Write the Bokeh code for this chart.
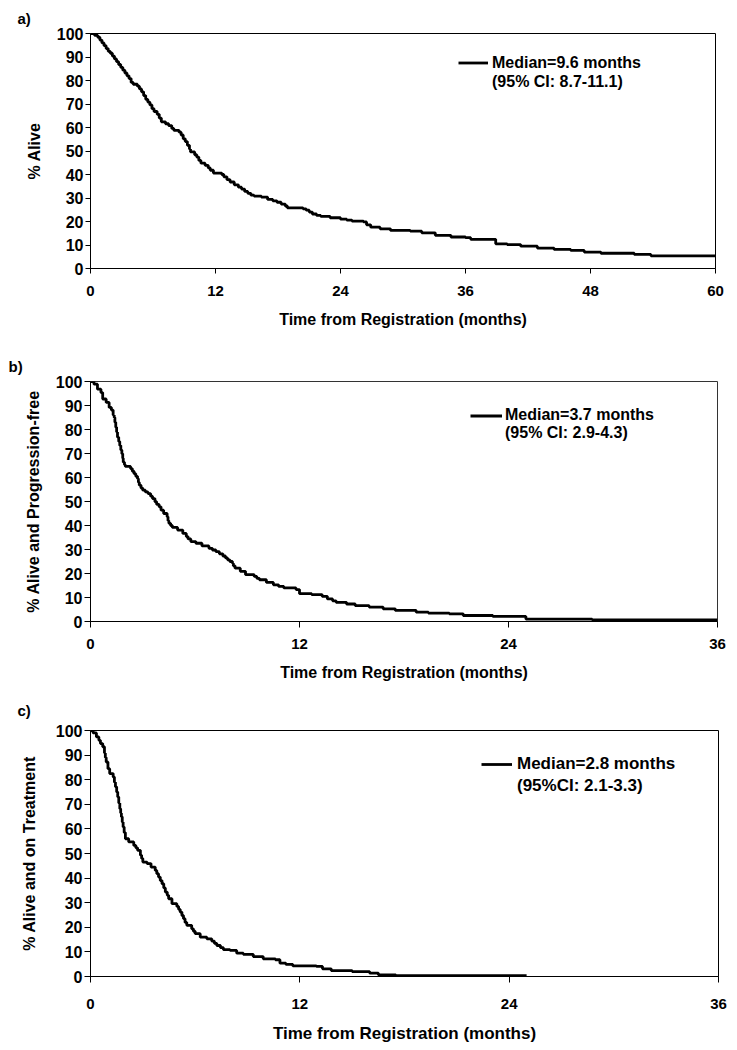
from bokeh.plotting import figure
from bokeh.models import (Range1d, FixedTicker, Legend, LegendItem, Title,
                          ColumnDataSource)
from bokeh.layouts import column
from bokeh.embed import file_html
from bokeh.resources import INLINE

# ---------------- data ----------------
panel_tags = ["a)", "b)", "c)"]
y_titles = ["% Alive", "% Alive and Progression-free", "% Alive and on Treatment"]
x_title = "Time from Registration (months)"
median_labels = ["Median=9.6 months", "Median=3.7 months", "Median=2.8 months"]
ci_labels = ["(95% CI: 8.7-11.1)", "(95% CI: 2.9-4.3)", "(95%CI: 2.1-3.3)"]
x_max = [60, 36, 36]
x_ticks_a = [0, 12, 24, 36, 48, 60]
x_ticks_bc = [0, 12, 24, 36]
y_ticks = [0, 10, 20, 30, 40, 50, 60, 70, 80, 90, 100]

# a) overall survival
os_time = [0, 0.4, 0.7, 0.9, 1.1, 1.3, 1.5, 1.7, 1.9, 2.1, 2.3, 2.5, 2.7, 2.9, 3.1,
           3.3, 3.5, 3.7, 3.9, 4.1, 4.5, 4.7, 4.9, 5.1, 5.3, 5.5, 5.7, 5.9, 6.1,
           6.4, 6.6, 6.8, 7.2, 7.5, 7.8, 8.0, 8.5, 8.7, 8.9, 9.1, 9.3, 9.5, 9.6,
           10.0, 10.2, 10.4, 10.6, 11.0, 11.3, 11.5, 11.8, 12.6, 12.8, 13.1, 13.4,
           13.8, 14.2, 14.5, 14.8, 15.1, 15.4, 15.7, 16.4, 17.0, 17.5, 17.9, 18.3,
           18.7, 18.9, 20.4, 20.7, 21.0, 21.3, 21.7, 22.1, 23.0, 24.0, 24.6, 25.1,
           26.2, 26.5, 26.9, 27.8, 28.8, 30.7, 31.8, 33.1, 34.6, 36.0, 36.5, 38.9,
           40.0, 41.3, 42.9, 44.5, 46.1, 47.4, 49.0, 52.2, 53.8, 60.0]
os_pct = [100, 99.2, 98.4, 97.2, 96, 94.8, 93.6, 92.4, 91.6, 90.4, 89.2, 88, 86.8,
          85.6, 84.4, 83.2, 82, 80.8, 79.2, 78.4, 77.6, 76.4, 75.2, 73.6, 72, 70.8,
          69.6, 68, 66.8, 65.6, 64, 62.4, 61.6, 60.8, 59.6, 58.8, 58, 56.8, 55.2,
          54, 52.4, 50.8, 49.6, 48.4, 47.4, 46, 44.8, 43.9, 42.8, 41.8, 40.6, 40,
          39, 37.8, 36.8, 35.6, 34.6, 33.8, 32.8, 32, 31.2, 30.8, 30.4, 29.4, 28.8,
          28.2, 27.4, 26.6, 25.8, 25.4, 24.8, 24, 23.2, 22.6, 22.2, 21.6, 21, 20.6,
          20.2, 19.8, 18.6, 17.6, 16.9, 16.2, 15.9, 15.2, 14.1, 13.4, 13.1, 12.4,
          10.5, 10.2, 9.5, 8.7, 8.1, 7.7, 7.0, 6.5, 6.0, 5.4, 5.2]

# b) progression-free survival
pfs_time = [0, 0.2, 0.4, 0.6, 0.7, 0.9, 1.07, 1.2, 1.3, 1.36, 1.4, 1.45, 1.5, 1.55,
            1.62, 1.68, 1.74, 1.8, 1.85, 1.88, 1.95, 2.0, 2.3, 2.4, 2.5, 2.6, 2.7,
            2.75, 2.8, 2.9, 3.0, 3.15, 3.3, 3.45, 3.56, 3.7, 3.8, 3.94, 4.05, 4.2,
            4.4, 4.45, 4.5, 4.6, 4.7, 5.0, 5.3, 5.5, 5.6, 5.76, 6.05, 6.4, 6.8, 7.0,
            7.2, 7.4, 7.6, 7.75, 7.87, 8.0, 8.15, 8.2, 8.3, 8.6, 8.9, 9.4, 9.55, 9.7,
            10.1, 10.5, 10.8, 11.1, 11.8, 12.0, 12.7, 13.3, 13.6, 13.9, 14.1, 14.7,
            15.2, 16.0, 16.8, 17.5, 18.7, 19.4, 20.6, 21.4, 23.1, 25.0, 28.8, 36.0]
pfs_pct = [100, 98.9, 96.8, 95.4, 92.7, 91.3, 89.2, 88.1, 86, 85, 83, 80.9, 79, 76.8,
           75, 73.3, 71.5, 69.9, 68, 66.4, 65.3, 64.6, 63.7, 62.6, 61.6, 60.5, 59.5,
           58, 56.8, 55.6, 54.7, 54, 53.3, 52.2, 51.2, 49.9, 48.8, 47.8, 46.4, 45,
           43.6, 42, 40.9, 40, 39.2, 38.1, 36.7, 35.4, 34.4, 33.3, 32.6, 31.5, 30.5,
           29.8, 29.1, 28.2, 27.3, 26.5, 25.7, 25, 24.3, 23.2, 22.2, 20.9, 19.5, 18.8,
           18, 17.4, 16.3, 15.3, 14.6, 14.0, 13.3, 11.6, 11.2, 10.5, 9.4, 8.6, 8.0,
           7.3, 6.6, 6.0, 5.3, 4.6, 3.9, 3.5, 3.2, 2.5, 2.1, 1.0, 0.7, 0.7]

# c) alive and on treatment
tx_time = [0, 0.15, 0.34, 0.48, 0.57, 0.7, 0.8, 0.85, 0.9, 1.0, 1.1, 1.3, 1.37, 1.43,
           1.5, 1.56, 1.62, 1.68, 1.73, 1.77, 1.82, 1.87, 1.93, 2.0, 2.19, 2.48, 2.6,
           2.7, 2.86, 2.93, 3.0, 3.24, 3.47, 3.71, 3.8, 3.9, 4.0, 4.1, 4.2, 4.29, 4.4,
           4.48, 4.67, 4.95, 5.05, 5.14, 5.24, 5.33, 5.42, 5.52, 5.8, 5.9, 6.0, 6.29,
           6.67, 6.95, 7.1, 7.24, 7.45, 7.62, 8.0, 8.38, 8.76, 9.33, 9.9, 10.6, 10.86,
           11.2, 11.6, 12.95, 13.3, 13.8, 15.0, 16.0, 16.5, 17.5, 25.0]
tx_pct = [100, 99, 97.4, 96, 94.7, 93.4, 90.9, 89, 87.2, 84.5, 82.5, 81.1, 79, 77.1,
          75, 73, 70.5, 68.2, 66.5, 64.9, 62.8, 60.8, 58.5, 56, 54.7, 53.3, 52.3,
          51.3, 49.3, 48, 46.5, 45.9, 44.5, 43.1, 41.8, 40.4, 39, 37.7, 36, 34.3, 33,
          31.6, 29.6, 28.5, 27.3, 26.2, 24.8, 23.5, 22, 20.8, 19.4, 18.4, 17.4, 16,
          15.3, 14.4, 13.5, 12.6, 11.7, 10.9, 10.6, 9.5, 9.0, 8.1, 7.2, 6.8, 5.4,
          4.9, 4.3, 4.1, 3.1, 2.4, 2.0, 1.4, 0.7, 0.3, 0.3]

series_time = [os_time, pfs_time, tx_time]
series_pct = [os_pct, pfs_pct, tx_pct]
series_xticks = [x_ticks_a, x_ticks_bc, x_ticks_bc]

# ---------------- layout / style per panel ----------------
FONT = "Liberation Sans"
layout = [
    dict(fw=625, fh=235, bl=90, br=14, bt=33, bb=66, tag_off=-73, tag_stand=14,
         leg_loc=(368, 177), glyph_w=30, lab_h=19, stand=4, leg_fs="16px",
         xl_fs="16px", tick_out=5, outline="black", xl_stand=12, xt_stand=12,
         yt_stand=11),
    dict(fw=627, fh=240, bl=90, br=12, bt=47, bb=64, tag_off=-82, tag_stand=14,
         leg_loc=(380, 179), glyph_w=32, lab_h=17, stand=3, leg_fs="16px",
         xl_fs="16px", tick_out=6, outline="#333333", xl_stand=11, xt_stand=12,
         yt_stand=11),
    dict(fw=628, fh=246, bl=90, br=12, bt=45, bb=70, tag_off=-73, tag_stand=24,
         leg_loc=(391, 179), glyph_w=31, lab_h=22, stand=5, leg_fs="17px",
         xl_fs="17px", tick_out=6, outline="black", xl_stand=16, xt_stand=12,
         yt_stand=15),
]

figs = []
for i in range(3):
    L = layout[i]
    p = figure(frame_width=L["fw"], frame_height=L["fh"],
               x_range=Range1d(0, x_max[i]), y_range=Range1d(0, 100),
               output_backend="svg", toolbar_location=None,
               min_border_left=L["bl"], min_border_right=L["br"],
               min_border_top=L["bt"], min_border_bottom=L["bb"])
    p.title = Title(text=panel_tags[i], align="left", offset=L["tag_off"],
                    standoff=L["tag_stand"], text_font=FONT,
                    text_font_size="15px", text_font_style="bold",
                    text_color="black")
    p.outline_line_color = L["outline"]
    p.outline_line_width = 1
    p.xgrid.visible = False
    p.ygrid.visible = False
    p.background_fill_color = "white"
    p.border_fill_color = "white"

    src = ColumnDataSource(dict(t=series_time[i], s=series_pct[i]))
    r = p.step(x="t", y="s", source=src, mode="after", line_color="black",
               line_width=2.8)
    dummy = p.line(x=[], y=[], line_alpha=0)

    xa = p.xaxis[0]
    xa.ticker = FixedTicker(ticks=series_xticks[i])
    xa.axis_label = x_title
    ya = p.yaxis[0]
    ya.ticker = FixedTicker(ticks=y_ticks)
    ya.axis_label = y_titles[i]
    for ax in (xa, ya):
        ax.axis_line_color = "black"
        ax.major_tick_line_color = "black"
        ax.major_tick_in = 0
        ax.major_tick_out = L["tick_out"]
        ax.minor_tick_in = 0
        ax.minor_tick_out = 0
        ax.major_label_text_font = FONT
        ax.major_label_text_font_style = "bold"
        ax.major_label_text_color = "black"
        ax.axis_label_text_font = FONT
        ax.axis_label_text_font_style = "bold"
        ax.axis_label_text_color = "black"
    xa.major_label_text_font_size = "15px"
    ya.major_label_text_font_size = "16px"
    xa.axis_label_text_font_size = L["xl_fs"]
    ya.axis_label_text_font_size = "16px"
    xa.major_label_standoff = L["xl_stand"]
    ya.major_label_standoff = 2
    xa.axis_label_standoff = L["xt_stand"]
    ya.axis_label_standoff = L["yt_stand"]

    leg = Legend(items=[LegendItem(label=median_labels[i], renderers=[r]),
                        LegendItem(label=ci_labels[i], renderers=[dummy])],
                 location=L["leg_loc"], padding=0, margin=0, spacing=0,
                 border_line_alpha=0, background_fill_alpha=0,
                 label_text_font=FONT, label_text_font_style="bold",
                 label_text_font_size=L["leg_fs"], label_text_color="black",
                 glyph_width=L["glyph_w"], glyph_height=L["lab_h"],
                 label_height=L["lab_h"], label_standoff=L["stand"])
    p.add_layout(leg)
    figs.append(p)

page = column(*figs, spacing=0)
open("out.html", "w").write(file_html(page, INLINE))
